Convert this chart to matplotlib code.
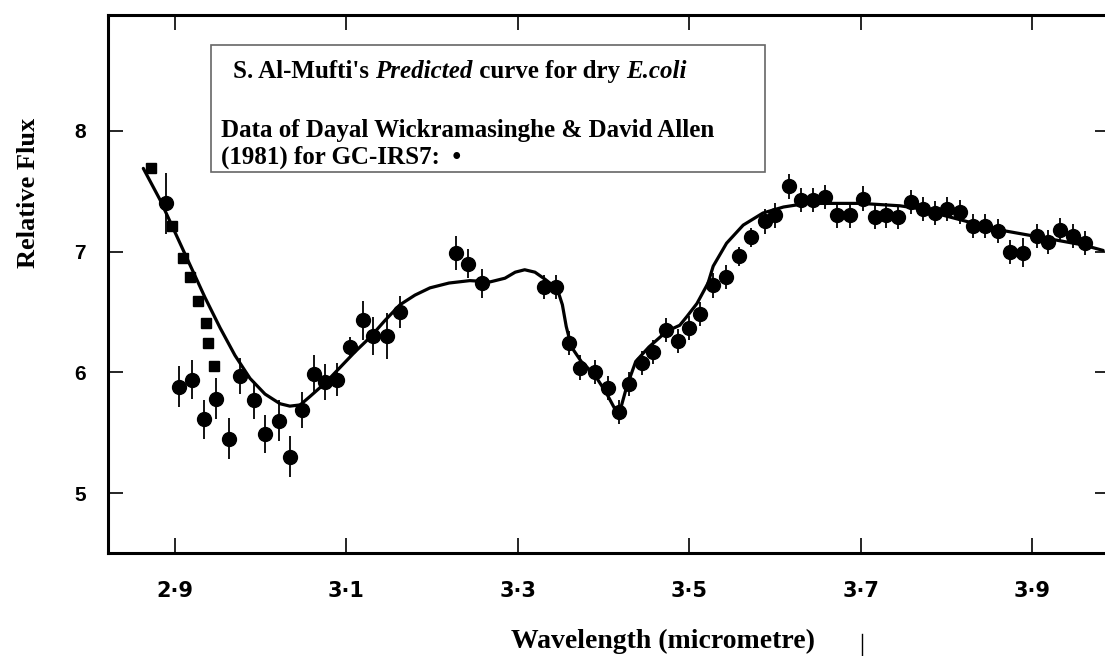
import matplotlib.pyplot as plt
from matplotlib.patches import Rectangle
from matplotlib.lines import Line2D

# square markers (no error bars)
sq_x = [2.872, 2.896, 2.909, 2.917, 2.927, 2.936, 2.939, 2.946]
sq_y = [7.69, 7.21, 6.95, 6.79, 6.59, 6.41, 6.24, 6.05]

# circle markers with error bars
pt_x = [2.890, 2.905, 2.920, 2.934, 2.948, 2.963, 2.976, 2.992, 3.005, 3.021,
        3.034, 3.048, 3.062, 3.075, 3.089, 3.104, 3.119, 3.131, 3.147, 3.162,
        3.228, 3.242, 3.258, 3.331, 3.345, 3.360, 3.373, 3.390, 3.405, 3.418,
        3.430, 3.445, 3.458, 3.473, 3.487, 3.500, 3.513, 3.528, 3.543, 3.558,
        3.572, 3.588, 3.600, 3.616, 3.630, 3.644, 3.659, 3.672, 3.688, 3.703,
        3.717, 3.730, 3.744, 3.759, 3.773, 3.787, 3.801, 3.816, 3.831, 3.845,
        3.860, 3.874, 3.889, 3.906, 3.919, 3.933, 3.948, 3.962]
pt_y = [7.40, 5.88, 5.94, 5.61, 5.78, 5.45, 5.97, 5.77, 5.49, 5.60,
        5.30, 5.69, 5.99, 5.92, 5.94, 6.21, 6.43, 6.30, 6.30, 6.50,
        6.99, 6.90, 6.74, 6.71, 6.71, 6.24, 6.04, 6.00, 5.87, 5.67,
        5.90, 6.08, 6.17, 6.35, 6.26, 6.37, 6.48, 6.72, 6.79, 6.96,
        7.12, 7.25, 7.30, 7.54, 7.43, 7.43, 7.45, 7.30, 7.30, 7.44,
        7.29, 7.30, 7.29, 7.41, 7.35, 7.32, 7.35, 7.33, 7.21, 7.21,
        7.17, 7.00, 6.99, 7.13, 7.08, 7.18, 7.13, 7.07]
pt_err = [0.25, 0.17, 0.16, 0.16, 0.17, 0.17, 0.15, 0.16, 0.16, 0.17,
          0.17, 0.15, 0.15, 0.15, 0.14, 0.08, 0.16, 0.16, 0.19, 0.13,
          0.14, 0.12, 0.12, 0.10, 0.10, 0.10, 0.10, 0.10, 0.10, 0.10,
          0.10, 0.10, 0.10, 0.10, 0.10, 0.10, 0.10, 0.10, 0.10, 0.08,
          0.08, 0.10, 0.10, 0.10, 0.10, 0.10, 0.10, 0.10, 0.10, 0.10,
          0.10, 0.10, 0.10, 0.10, 0.10, 0.10, 0.10, 0.10, 0.10, 0.10,
          0.10, 0.10, 0.12, 0.10, 0.10, 0.10, 0.10, 0.10]

# predicted curve
curve_x = [2.863, 2.8825, 2.900, 2.9175, 2.935, 2.9525, 2.970, 2.9875, 3.005, 3.0225,
           3.034, 3.046, 3.0575, 3.075, 3.0925, 3.110, 3.1276, 3.145, 3.1625, 3.180,
           3.1975, 3.2197, 3.244, 3.268, 3.285, 3.297, 3.308, 3.320, 3.332, 3.341,
           3.347, 3.352, 3.3565, 3.3626, 3.374, 3.3896, 3.4032, 3.413, 3.4165, 3.420,
           3.427, 3.4376, 3.453, 3.4737, 3.489, 3.497, 3.509, 3.522, 3.528, 3.5436,
           3.563, 3.586, 3.610, 3.637, 3.700, 3.746, 3.765, 3.824, 3.870, 3.9055,
           3.960, 3.983]
curve_y = [7.69, 7.43, 7.16, 6.89, 6.62, 6.37, 6.14, 5.95, 5.82, 5.74,
           5.72, 5.73, 5.80, 5.91, 6.04, 6.17, 6.29, 6.43, 6.56, 6.64,
           6.70, 6.74, 6.76, 6.75, 6.78, 6.83, 6.85, 6.83, 6.77, 6.72,
           6.67, 6.56, 6.38, 6.21, 6.09, 5.98, 5.83, 5.70, 5.675, 5.70,
           5.88, 6.09, 6.21, 6.34, 6.39, 6.46, 6.57, 6.74, 6.88, 7.07,
           7.22, 7.32, 7.37, 7.40, 7.40, 7.38, 7.36, 7.25, 7.17, 7.125,
           7.055, 7.01]

x_ticks = [2.9, 3.1, 3.3, 3.5, 3.7, 3.9]
x_labels = ["2·9", "3·1", "3·3", "3·5", "3·7", "3·9"]
y_ticks = [5, 6, 7, 8]

# first legend line, split into (text, italic?) pieces
title_parts = [("S. Al-Mufti's ", False), ("Predicted", True),
               (" curve for dry ", False), ("E.coli", True)]

W, H = 1105, 656
fig = plt.figure(figsize=(W / 100, H / 100), dpi=100)
ax = fig.add_axes([108 / W, 1 - 553 / H, (1110 - 108) / W, (553 - 15) / H])


def fx(px):
    return px / W


def fy(py):
    return 1 - py / H


ax.plot(curve_x, curve_y, color="black", lw=2.3, solid_capstyle="round",
        solid_joinstyle="round", zorder=3)
ax.errorbar(pt_x, pt_y, yerr=pt_err, fmt="o", color="black", ms=10,
            elinewidth=1.3, capsize=0, zorder=4)
ax.plot(sq_x, sq_y, "s", color="black", ms=7.5, zorder=4)

ax.set_xlim(2.8218, 3.991)
ax.set_ylim(4.503, 8.961)

ax.set_xticks(x_ticks)
ax.set_xticklabels(x_labels, fontsize=15, fontweight="bold",
                   family=["Liberation Sans Narrow", "DejaVu Sans"])
ax.set_yticks(y_ticks)
ax.set_yticklabels([str(v) for v in y_ticks], fontsize=15, fontweight="bold",
                   family=["Liberation Sans", "DejaVu Sans"])
ax.tick_params(axis="both", direction="in", length=11, width=1.2,
               top=True, right=True)
ax.tick_params(axis="x", pad=20)
ax.tick_params(axis="y", pad=16)
for side in ["left", "bottom", "top"]:
    ax.spines[side].set_linewidth(2.2)
ax.spines["right"].set_visible(False)

# legend box
fig.patches.append(Rectangle((fx(211), fy(172)), fx(765) - fx(211), fy(45) - fy(172),
                             transform=fig.transFigure, fill=False,
                             edgecolor="#666666", lw=1.2))

# line 1: bold text with italic pieces, each piece placed after the previous one
anchor = None
for txt, italic in title_parts:
    style = "italic" if italic else "normal"
    if anchor is None:
        anchor = fig.text(fx(233), fy(83), txt, fontsize=18, fontweight="bold",
                          fontstyle=style, family="Liberation Serif", va="bottom")
    else:
        anchor = fig.add_artist(plt.Annotation(
            txt, xy=(1, 0), xycoords=anchor, va="bottom", ha="left",
            fontsize=18, fontweight="bold", fontstyle=style,
            family="Liberation Serif"))

fig.text(fx(221), fy(130), "Data of Dayal Wickramasinghe & David Allen",
         fontsize=18, fontweight="bold", family="Liberation Serif", va="center")
fig.text(fx(221), fy(157), "(1981) for GC-IRS7:  •",
         fontsize=18, fontweight="bold", family="Liberation Serif", va="center")

fig.text(fx(29), fy(193), "Relative Flux", rotation=90, fontsize=19,
         fontweight="bold", family="Liberation Serif", ha="center", va="center")
fig.text(fx(663), fy(641), "Wavelength (micrometre)", fontsize=20,
         fontweight="bold", family="Liberation Serif", ha="center", va="center")
fig.lines.append(Line2D([fx(862), fx(862)], [fy(634), fy(656)],
                        transform=fig.transFigure, color="black", lw=1))

fig.savefig("out.png", dpi=100)
